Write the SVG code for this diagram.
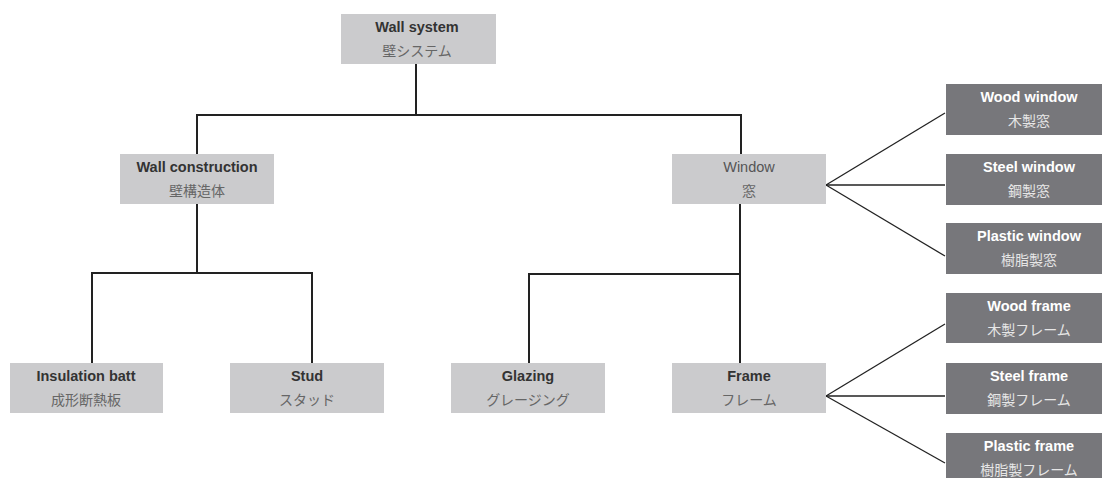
<svg xmlns="http://www.w3.org/2000/svg" width="1102" height="478" viewBox="0 0 1102 478">
<style>
.lb{fill:#cbcbcd}
.db{fill:#77777b}
text{font-family:"Liberation Sans","Noto Sans CJK JP",sans-serif;font-size:14.5px;text-anchor:middle}
.t{font-weight:bold;fill:#333}
.tr{fill:#555}
.j{fill:#666;font-family:"Noto Sans CJK JP",sans-serif;font-size:14px}
.tw{font-weight:bold;fill:#fff}
.jw{fill:#e6e6e6;font-family:"Noto Sans CJK JP",sans-serif;font-size:14px}
.c{fill:none;stroke:#222;stroke-width:2}
.f{fill:none;stroke:#222;stroke-width:1.3}
</style>
<rect width="1102" height="478" fill="#fff"/>
<g id="connectors">
<polyline class="c" points="416,64 416,115"/>
<polyline class="c" points="197,154 197,115 741,115 741,154"/>
<polyline class="c" points="197,204 197,273"/>
<polyline class="c" points="92,363 92,273 312,273 312,363"/>
<polyline class="c" points="740,204 740,363"/>
<polyline class="c" points="529,363 529,274 740,274"/>
<line class="f" x1="826" y1="185" x2="945" y2="113"/>
<line class="f" x1="826" y1="185" x2="945" y2="185"/>
<line class="f" x1="826" y1="185" x2="945" y2="256"/>
<line class="f" x1="826" y1="396" x2="945" y2="324"/>
<line class="f" x1="826" y1="396" x2="945" y2="396"/>
<line class="f" x1="826" y1="396" x2="945" y2="463"/>
</g>
<g id="wall-system"><rect class="lb" x="341" y="14" width="155" height="50"/><text class="t" x="417" y="32">Wall system</text><text class="j" x="417" y="56">壁システム</text></g>
<g id="wall-construction"><rect class="lb" x="120" y="154" width="154" height="50"/><text class="t" x="197" y="172">Wall construction</text><text class="j" x="197" y="196">壁構造体</text></g>
<g id="window"><rect class="lb" x="672" y="154" width="154" height="50"/><text class="tr" x="749" y="172">Window</text><text class="j" x="749" y="196">窓</text></g>
<g id="insulation-batt"><rect class="lb" x="10" y="363" width="153" height="50"/><text class="t" x="86" y="381">Insulation batt</text><text class="j" x="86" y="405">成形断熱板</text></g>
<g id="stud"><rect class="lb" x="230" y="363" width="154" height="50"/><text class="t" x="307" y="381">Stud</text><text class="j" x="307" y="405">スタッド</text></g>
<g id="glazing"><rect class="lb" x="451" y="363" width="154" height="50"/><text class="t" x="528" y="381">Glazing</text><text class="j" x="528" y="405">グレージング</text></g>
<g id="frame"><rect class="lb" x="672" y="363" width="154" height="50"/><text class="t" x="749" y="381">Frame</text><text class="j" x="749" y="405">フレーム</text></g>
<g id="wood-window"><rect class="db" x="946" y="84" width="166" height="51"/><text class="tw" x="1029" y="102">Wood window</text><text class="jw" x="1029" y="126">木製窓</text></g>
<g id="steel-window"><rect class="db" x="946" y="154" width="166" height="51"/><text class="tw" x="1029" y="172">Steel window</text><text class="jw" x="1029" y="196">鋼製窓</text></g>
<g id="plastic-window"><rect class="db" x="946" y="223" width="166" height="51"/><text class="tw" x="1029" y="241">Plastic window</text><text class="jw" x="1029" y="265">樹脂製窓</text></g>
<g id="wood-frame"><rect class="db" x="946" y="293" width="166" height="50"/><text class="tw" x="1029" y="311">Wood frame</text><text class="jw" x="1029" y="335">木製フレーム</text></g>
<g id="steel-frame"><rect class="db" x="946" y="363" width="166" height="51"/><text class="tw" x="1029" y="381">Steel frame</text><text class="jw" x="1029" y="405">鋼製フレーム</text></g>
<g id="plastic-frame"><rect class="db" x="946" y="433" width="166" height="50"/><text class="tw" x="1029" y="451">Plastic frame</text><text class="jw" x="1029" y="475">樹脂製フレーム</text></g>
</svg>
